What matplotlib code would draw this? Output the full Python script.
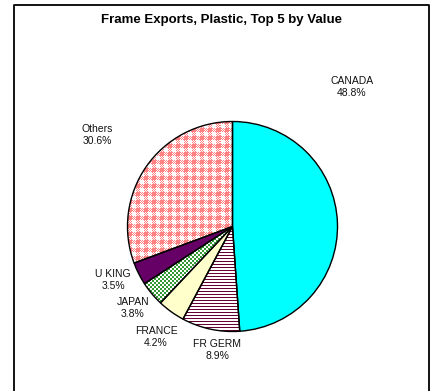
import numpy as np
import matplotlib.pyplot as plt
from matplotlib.patches import Wedge
from matplotlib.colors import to_rgb

plt.rcParams['font.family'] = ['Liberation Sans', 'DejaVu Sans']

countries = ['CANADA', 'FR GERM', 'FRANCE', 'JAPAN', 'U KING', 'Others']
shares = [48.8, 8.9, 4.2, 3.8, 3.5, 30.6]

face_colors = ['#00FFFF', 'white', '#FFFFCC', 'white', '#660066', 'white']
fills = [None, 'lines', None, 'dots', None, 'check']
fill_colors = [None, '#660033', None, '#339933', None, '#FF8080']

# label anchor positions in pixels (x, y from top)
label_pos = [(352, 87), (217, 350), (156, 337), (133, 308), (113, 280), (97, 135)]

W, H = 436, 391


def pattern(kind, color):
    yy, xx = np.mgrid[0:H, 0:W]
    if kind == 'lines':
        mask = yy % 3 == 0
    elif kind == 'dots':
        mask = ((xx // 2) + (yy // 2)) % 2 == 0
    else:
        bx = xx % 8 < 4
        by = yy % 8 < 4
        mask = (bx & by) | ((bx ^ by) & ((xx + yy) % 2 == 0))
    img = np.ones((H, W, 3))
    img[mask] = to_rgb(color)
    return img


fig = plt.figure(figsize=(W / 100, H / 100), dpi=100)
ax = fig.add_axes([0, 0, 1, 1])

cx, cy, r = 232.5, H - 226.5, 105

wedges, _ = ax.pie(shares, colors=face_colors, startangle=90, counterclock=False,
                   center=(cx, cy), radius=r, frame=True,
                   wedgeprops=dict(edgecolor='none', linewidth=0))

for w, kind, fc in zip(wedges, fills, fill_colors):
    if kind is None:
        continue
    im = ax.imshow(pattern(kind, fc), extent=(0, W, 0, H), origin='upper',
                   interpolation='nearest', aspect='auto', zorder=2)
    im.set_clip_path(w)

for w in wedges:
    ax.add_patch(Wedge((cx, cy), r, w.theta1, w.theta2, facecolor='none',
                       edgecolor='black', linewidth=1.0, zorder=3))

for name, val, (lx, ly) in zip(countries, shares, label_pos):
    ax.text(lx, H - ly, f'{name}\n{val:.1f}%', ha='center', va='center',
            fontsize=7.5, linespacing=1.2, color='#111111')

ax.set_xlim(0, W)
ax.set_ylim(0, H)
ax.axis('off')

fig.text(221 / W, 1 - 20 / H, 'Frame Exports, Plastic, Top 5 by Value',
         ha='center', va='center', fontsize=9.5, fontweight='bold')

# outer frame, open at the bottom
ax.plot([14, 14, 429, 429], [-5, H - 4.5, H - 4.5, -5], color='black',
        linewidth=1.3, clip_on=False)

fig.savefig('out.png', dpi=100)
